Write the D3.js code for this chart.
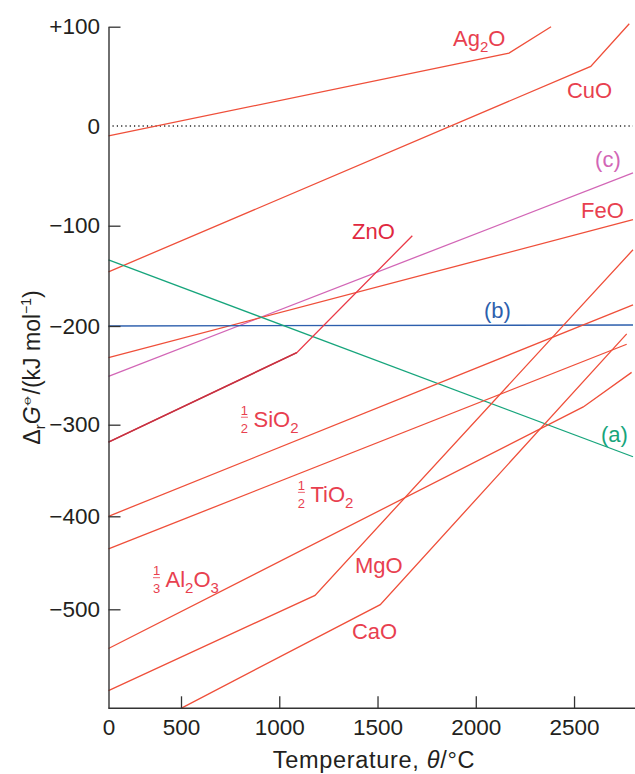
<!DOCTYPE html>
<html><head><meta charset="utf-8">
<script src="https://cdn.jsdelivr.net/npm/d3@7"></script>
<style>
html,body{margin:0;padding:0;background:#fff;}
svg text{font-family:"Liberation Sans",Arial,sans-serif;}
</style></head>
<body>
<svg id="chart" width="635" height="774"></svg>
<script>
// ---- data (temperature °C, ΔrG° kJ/mol) ----
const xTicks = [0, 500, 1000, 1500, 2000, 2500];
const xTickLabels = ["0", "500", "1000", "1500", "2000", "2500"];
const yTicks = [100, 0, -100, -200, -300, -400, -500];
const yTickLabels = ["+100", "0", "\u2212100", "\u2212200", "\u2212300", "\u2212400", "\u2212500"];

const ag2o  = [[0, -10], [2169, 73.5], [2383, 100]];
const cuo   = [[0, -146], [2585, 60], [2781, 103]];
const lineC = [[0, -251], [2800, -47]];
const feo   = [[0, -232], [2800, -94]];
const zno   = [[0, -319], [1089, -227], [1677, -110]];
const lineB = [[0, -200], [2800, -199]];
const lineA = [[0, -134], [2800, -335]];
const sio2  = [[0, -400], [2800, -179]];
const tio2  = [[0, -435], [2768, -218.5]];
const al2o3 = [[0, -542], [2547, -282], [2793, -247]];
const mgo   = [[0, -587], [1182, -485], [2800, -124]];
const cao   = [[500, -606], [1514, -495], [2768, -208]];

// label anchors (data coordinates)
const labelAnchors = {
  ag2o: [1884, 81], cuo: [2464, 28], c: [2607, -41], feo: [2536, -92],
  zno: [1370, -113], b: [2042, -192], a: [2637, -319],
  sio2: [800, -302], tio2: [1090, -384], al2o3: [300, -476],
  mgo: [1385, -461], cao: [1370, -532]
};

// ---- scales ----
const x = d3.scaleLinear().domain([0, 500, 2800]).range([108.5, 181, 633]);
const y = d3.scaleLinear()
  .domain([-606, -500, -400, -300, -200, -100, 0, 100])
  .range([708.3, 609.3, 516.3, 424.7, 326, 225.7, 126, 26.7]);

const svg = d3.select("#chart");
const RED = "#ef4f3a", LBL = "#e8404f", GREEN = "#17a57c", BLUE = "#2d5fad", MAG = "#d266b6";
const line = d3.line().x(d => x(d[0])).y(d => y(d[1]));

// zero dotted line
svg.append("line")
  .attr("x1", x(0) + 4).attr("x2", x(2800))
  .attr("y1", y(0)).attr("y2", y(0))
  .attr("stroke", "#222").attr("stroke-width", 1.3)
  .attr("stroke-dasharray", "1.2,3.1");

// series
const series = [
  {d: ag2o, c: RED}, {d: cuo, c: RED}, {d: lineC, c: MAG}, {d: feo, c: RED},
  {d: lineB, c: BLUE}, {d: lineA, c: GREEN}, {d: sio2, c: RED}, {d: tio2, c: RED},
  {d: al2o3, c: RED}, {d: mgo, c: RED}, {d: cao, c: RED}, {d: zno, c: "#ea3a48"}
];
svg.append("g").selectAll("path").data(series).join("path")
  .attr("d", s => line(s.d)).attr("fill", "none")
  .attr("stroke", s => s.c).attr("stroke-width", 1.3);
// darker first segment of ZnO (overlap)
svg.append("path").attr("d", line(zno.slice(0, 2))).attr("fill", "none")
  .attr("stroke", "#c43242").attr("stroke-width", 1.6);

// axes
const xAxis = d3.axisBottom(x).tickValues(xTicks).tickFormat((d, i) => xTickLabels[i])
  .tickSizeInner(-12).tickSizeOuter(0).tickPadding(10.5);
const gx = svg.append("g").attr("transform", `translate(0,${y(-606)})`).call(xAxis);
gx.select(".domain").attr("d", `M${x(0)},0H635`);
const yAxis = d3.axisLeft(y).tickValues(yTicks).tickFormat((d, i) => yTickLabels[i])
  .tickSizeInner(-12).tickSizeOuter(0).tickPadding(8.5);
const gy = svg.append("g").attr("transform", `translate(${x(0)},0)`).call(yAxis);
gy.selectAll(".tick").filter(d => d === 0).select("line").remove();
gx.selectAll(".tick").filter(d => d === 0).select("line").remove();
[gx, gy].forEach(g => {
  g.select(".domain").attr("stroke", "#333").attr("stroke-width", 1.4);
  g.selectAll(".tick line").attr("stroke", "#333").attr("stroke-width", 1.3);
  g.selectAll(".tick text").attr("fill", "#231f20").attr("font-size", 22.5)
   .attr("font-family", "Liberation Sans, Arial, sans-serif");
});

// axis titles
svg.append("text").attr("x", 374).attr("y", 768).attr("text-anchor", "middle")
  .attr("font-size", 23.5).attr("letter-spacing", 0.7).attr("fill", "#231f20")
  .call(t => {
    t.append("tspan").text("Temperature, ");
    t.append("tspan").attr("font-style", "italic").text("\u03B8");
    t.append("tspan").text("/\u00B0C");
  });
svg.append("text").attr("transform", `translate(40,${(y(-606) + y(100)) / 2}) rotate(-90)`)
  .attr("text-anchor", "middle").attr("font-size", 23).attr("fill", "#231f20")
  .call(t => {
    t.append("tspan").text("\u0394");
    t.append("tspan").attr("font-size", 15).attr("dy", 5).text("r");
    t.append("tspan").attr("font-style", "italic").attr("dy", -5).text("G");
    t.append("tspan").attr("font-size", 14).attr("dy", -9).attr("font-family", "DejaVu Sans").text("\u29B5");
    t.append("tspan").attr("dy", 9).text("/(kJ mol");
    t.append("tspan").attr("font-size", 14).attr("dy", -9).text("\u22121");
    t.append("tspan").attr("dy", 9).text(")");
  });

// labels
function label(key, parts, color, frac) {
  const [dx, dy] = labelAnchors[key];
  const px = x(dx), py = y(dy);
  let tx = px;
  if (frac) {
    svg.append("text").attr("x", px + 4.5).attr("y", py - 11.5).attr("text-anchor", "middle")
      .attr("font-size", 13).attr("fill", color).text(frac[0]);
    svg.append("line").attr("x1", px + 1).attr("x2", px + 8).attr("y1", py - 9.3).attr("y2", py - 9.3)
      .attr("stroke", color).attr("stroke-width", 0.8);
    svg.append("text").attr("x", px + 4.5).attr("y", py + 6).attr("text-anchor", "middle")
      .attr("font-size", 13).attr("fill", color).text(frac[1]);
    tx = px + 13.5;
  }
  const t = svg.append("text").attr("x", tx).attr("y", py).attr("font-size", 22).attr("fill", color);
  let shift = 0;
  parts.forEach(p => {
    if (typeof p === "string") { t.append("tspan").attr("dy", -shift).text(p); shift = 0; }
    else { t.append("tspan").attr("font-size", 15).attr("dy", 6 - shift).text(p.sub); shift = 6; }
  });
}
function chem(str) { // split "Ag_2O" into parts
  const out = []; const re = /_(\d)/g; let last = 0, m;
  while ((m = re.exec(str))) { if (m.index > last) out.push(str.slice(last, m.index)); out.push({sub: m[1]}); last = re.lastIndex; }
  if (last < str.length) out.push(str.slice(last));
  return out;
}
label("ag2o", chem("Ag_2O"), LBL);
label("cuo", chem("CuO"), LBL);
label("c", ["(c)"], MAG);
label("feo", chem("FeO"), LBL);
label("zno", chem("ZnO"), "#e0283f");
label("b", ["(b)"], BLUE);
label("a", ["(a)"], GREEN);
label("sio2", chem("SiO_2"), LBL, ["1", "2"]);
label("tio2", chem("TiO_2"), LBL, ["1", "2"]);
label("al2o3", chem("Al_2O_3"), LBL, ["1", "3"]);
label("mgo", chem("MgO"), LBL);
label("cao", chem("CaO"), LBL);
</script>
</body></html>
